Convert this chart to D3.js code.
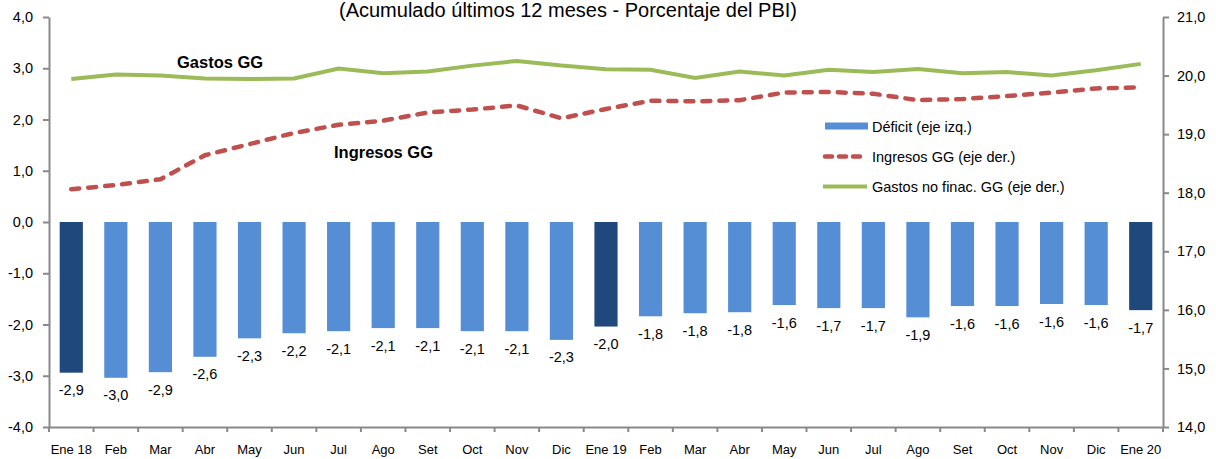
<!DOCTYPE html>
<html>
<head>
<meta charset="utf-8">
<script src="https://cdn.jsdelivr.net/npm/d3@7.9.0/dist/d3.min.js"></script>
<style>
  body { margin: 0; background: #fff; }
  svg { display: block; font-family: "Liberation Sans", Arial, sans-serif; }
</style>
</head>
<body>
<svg id="chart" width="1216" height="459"></svg>
<script>
// month labels
const months = ['Ene 18', 'Feb', 'Mar', 'Abr', 'May', 'Jun', 'Jul', 'Ago', 'Set', 'Oct', 'Nov', 'Dic',
  'Ene 19', 'Feb', 'Mar', 'Abr', 'May', 'Jun', 'Jul', 'Ago', 'Set', 'Oct', 'Nov', 'Dic', 'Ene 20'];

// deficit, left axis (% PBI)
const deficit = [-2.94, -3.04, -2.93, -2.63, -2.27, -2.17, -2.13, -2.07, -2.07, -2.13, -2.13, -2.30,
  -2.04, -1.84, -1.78, -1.76, -1.62, -1.68, -1.68, -1.86, -1.64, -1.64, -1.60, -1.62, -1.72];

// right axis series
const ingresos = [18.06, 18.13, 18.23, 18.64, 18.83, 19.02, 19.16, 19.23, 19.37, 19.42, 19.49, 19.27,
  19.43, 19.57, 19.56, 19.58, 19.71, 19.72, 19.69, 19.58, 19.60, 19.65, 19.71, 19.78, 19.80];
const gastos = [19.94, 20.02, 20.00, 19.95, 19.94, 19.95, 20.12, 20.04, 20.07, 20.17, 20.25, 20.17,
  20.11, 20.10, 19.96, 20.07, 20.00, 20.10, 20.06, 20.11, 20.04, 20.06, 20.00, 20.09, 20.20];

const leftTicks = [-4, -3, -2, -1, 0, 1, 2, 3, 4];
const rightTicks = [14, 15, 16, 17, 18, 19, 20, 21];

const legendItems = ['Déficit (eje izq.)', 'Ingresos GG (eje der.)', 'Gastos no finac. GG (eje der.)'];

const locale = d3.formatLocale({ decimal: ',', thousands: '.', grouping: [3], currency: ['', ''], minus: '-' });
const fmt = locale.format('.1f');

const axisGray = '#898989';
const barBlue = '#558ed5';
const barDark = '#1f497d';
const red = '#c0504d';
const green = '#9bbb59';

const plotL = 49, plotR = 1163, plotT = 17, plotB = 427;
const svg = d3.select('#chart');

const idx = d3.range(months.length);
const x = d3.scaleBand().domain(idx).range([plotL, plotR]).paddingInner(0.48).paddingOuter(0.24);
const yL = d3.scaleLinear().domain([-4, 4]).range([plotB, plotT]);
const yR = d3.scaleLinear().domain([14, 21]).range([plotB, plotT]);
const cx = i => x(i) + x.bandwidth() / 2;

// bars
svg.append('g').selectAll('rect')
  .data(idx)
  .join('rect')
  .attr('x', i => x(i))
  .attr('width', x.bandwidth())
  .attr('y', yL(0))
  .attr('height', i => yL(deficit[i]) - yL(0))
  .attr('fill', i => months[i].startsWith('Ene') ? barDark : barBlue);

// bar labels
svg.append('g').selectAll('text')
  .data(idx)
  .join('text')
  .attr('x', cx)
  .attr('y', i => yL(deficit[i]) + 22.5)
  .attr('text-anchor', 'middle')
  .attr('font-size', 14.5)
  .attr('fill', '#000')
  .text(i => fmt(deficit[i]));

// lines
const line = series => d3.line().x(cx).y(i => yR(series[i]))(idx);

svg.append('path')
  .attr('d', line(gastos))
  .attr('fill', 'none')
  .attr('stroke', green)
  .attr('stroke-width', 4);

svg.append('path')
  .attr('d', line(ingresos))
  .attr('fill', 'none')
  .attr('stroke', red)
  .attr('stroke-width', 4.5)
  .attr('stroke-linecap', 'round')
  .attr('stroke-dasharray', '8,9');

// axes
function styleAxis(g) {
  g.selectAll('.domain').attr('stroke', axisGray).attr('stroke-width', 2);
  g.selectAll('.tick line').attr('stroke', axisGray).attr('stroke-width', 2);
  g.selectAll('text').attr('fill', '#000').attr('font-family', '"Liberation Sans", Arial, sans-serif');
}

const gL = svg.append('g')
  .attr('transform', `translate(${plotL},0)`)
  .call(d3.axisLeft(yL).tickValues(leftTicks).tickFormat(fmt).tickSize(6).tickSizeOuter(0).tickPadding(10))
  .call(styleAxis);
gL.selectAll('text').attr('font-size', 14.5);

const gR = svg.append('g')
  .attr('transform', `translate(${plotR},0)`)
  .call(d3.axisRight(yR).tickValues(rightTicks).tickFormat(fmt).tickSize(6).tickSizeOuter(0).tickPadding(8))
  .call(styleAxis);
gR.selectAll('text').attr('font-size', 14.5);

const gB = svg.append('g')
  .attr('transform', `translate(0,${plotB})`)
  .call(d3.axisBottom(x).tickFormat(i => months[i]).tickSize(0).tickSizeOuter(0))
  .call(styleAxis);
gB.selectAll('text').attr('font-size', 13).attr('y', 27).attr('dy', 0);

// category separator ticks
gB.selectAll('.sep')
  .data(d3.range(months.length + 1))
  .join('line')
  .attr('class', 'sep')
  .attr('x1', k => plotL + k * x.step())
  .attr('x2', k => plotL + k * x.step())
  .attr('y1', 0)
  .attr('y2', 5)
  .attr('stroke', axisGray)
  .attr('stroke-width', 2);

// title
svg.append('text')
  .attr('x', 568)
  .attr('y', 17)
  .attr('text-anchor', 'middle')
  .attr('font-size', 20)
  .text('(Acumulado últimos 12 meses - Porcentaje del PBI)');

// inline annotations
svg.append('text')
  .attr('x', 177).attr('y', 68)
  .attr('font-size', 16.5).attr('font-weight', 'bold')
  .text('Gastos GG');
svg.append('text')
  .attr('x', 334).attr('y', 158)
  .attr('font-size', 16.5).attr('font-weight', 'bold')
  .text('Ingresos GG');

// legend
const lg = svg.append('g').attr('transform', 'translate(824,126)');
lg.append('rect').attr('x', 1).attr('y', -3.5).attr('width', 43).attr('height', 7).attr('fill', barBlue);
lg.append('line').attr('x1', 1).attr('x2', 42).attr('y1', 30.5).attr('y2', 30.5)
  .attr('stroke', red).attr('stroke-width', 4.5).attr('stroke-linecap', 'round').attr('stroke-dasharray', '7,7');
lg.append('line').attr('x1', -1).attr('x2', 43).attr('y1', 60.5).attr('y2', 60.5)
  .attr('stroke', green).attr('stroke-width', 4);
lg.selectAll('text.leg')
  .data(legendItems)
  .join('text')
  .attr('class', 'leg')
  .attr('x', 48)
  .attr('y', (d, i) => i * 30 + 6)
  .attr('font-size', 14.5)
  .text(d => d);
</script>
</body>
</html>
